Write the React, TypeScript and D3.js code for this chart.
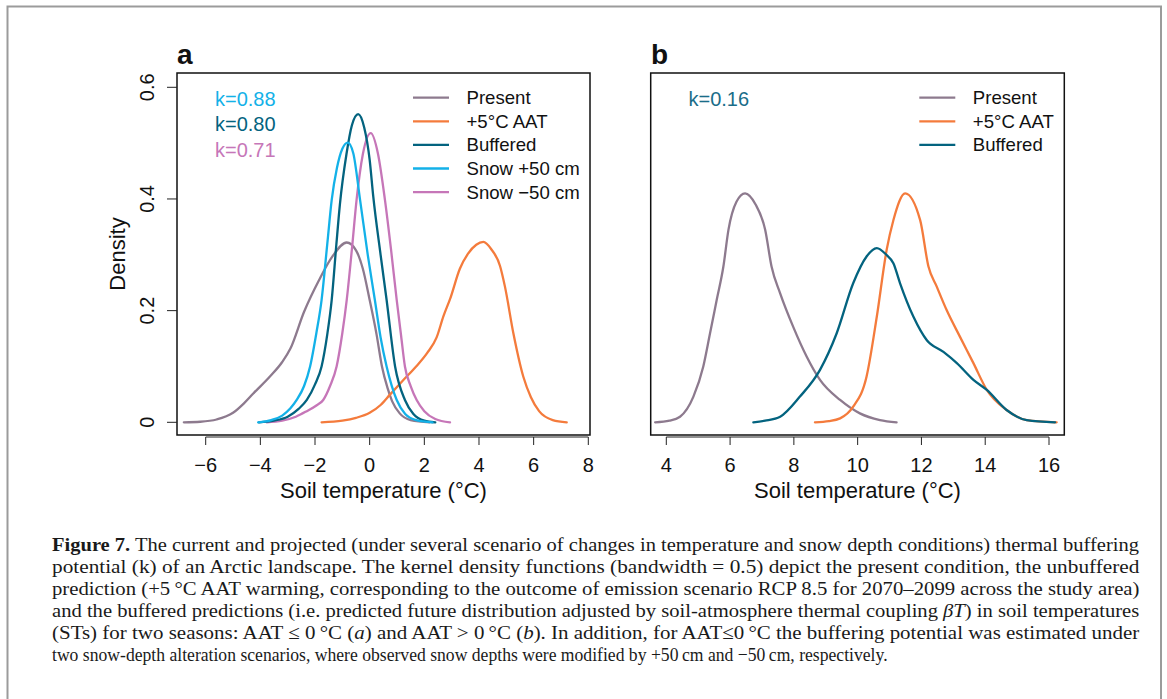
import React, { useLayoutEffect, useRef } from "react";
import * as d3 from "d3";

type Pt = [number, number];

// ---------- data ----------
const seriesNames = ["Present", "+5°C AAT", "Buffered", "Snow +50 cm", "Snow \u221250 cm"];

const presentA: Pt[] = [
  [-6.8, 0], [-6.2, 0.001], [-5.6, 0.005], [-5.0, 0.017], [-4.6, 0.034], [-4.25, 0.052],
  [-3.65, 0.082], [-3.2, 0.108], [-2.9, 0.132], [-2.4, 0.198], [-1.85, 0.255], [-1.35, 0.298],
  [-0.84, 0.322], [-0.5, 0.308], [-0.25, 0.275], [0.0, 0.219], [0.25, 0.158], [0.45, 0.1],
  [0.65, 0.062], [0.82, 0.038], [1.1, 0.016], [1.5, 0.004], [2.2, 0],
];
const warmA: Pt[] = [
  [-1.76, 0], [-1.0, 0.003], [-0.5, 0.008], [0.0, 0.017], [0.4, 0.031], [0.75, 0.05],
  [1.2, 0.074], [1.7, 0.1], [2.1, 0.124], [2.45, 0.152], [2.7, 0.19], [2.95, 0.222],
  [3.3, 0.275], [3.6, 0.302], [3.9, 0.318], [4.16, 0.323], [4.45, 0.31], [4.77, 0.28],
  [4.95, 0.243], [5.26, 0.159], [5.62, 0.082], [5.9, 0.045], [6.2, 0.02], [6.7, 0.004], [7.21, 0],
];
const bufferedA: Pt[] = [
  [-4.05, 0], [-3.5, 0.003], [-3.0, 0.01], [-2.6, 0.024], [-2.3, 0.04], [-2.0, 0.068],
  [-1.76, 0.1], [-1.55, 0.158], [-1.39, 0.219], [-1.22, 0.318], [-1.09, 0.39], [-0.85, 0.48],
  [-0.65, 0.532], [-0.42, 0.552], [-0.2, 0.528], [0.0, 0.47], [0.13, 0.405], [0.4, 0.3],
  [0.62, 0.219], [0.93, 0.1], [1.29, 0.04], [1.6, 0.015], [2.0, 0.003], [2.4, 0],
];
const snowPlusA: Pt[] = [
  [-4.08, 0], [-3.6, 0.004], [-3.2, 0.012], [-2.9, 0.025], [-2.67, 0.04], [-2.4, 0.065],
  [-2.18, 0.1], [-1.95, 0.16], [-1.76, 0.219], [-1.55, 0.32], [-1.39, 0.398], [-1.2, 0.455],
  [-1.0, 0.49], [-0.8, 0.501], [-0.6, 0.482], [-0.35, 0.398], [-0.07, 0.3], [0.19, 0.219],
  [0.4, 0.152], [0.62, 0.1], [0.99, 0.04], [1.3, 0.015], [1.7, 0.004], [2.3, 0],
];
const snowMinusA: Pt[] = [
  [-3.77, 0], [-3.2, 0.003], [-2.7, 0.01], [-2.3, 0.02], [-1.95, 0.03], [-1.7, 0.04],
  [-1.45, 0.065], [-1.21, 0.1], [-1.0, 0.16], [-0.84, 0.219], [-0.65, 0.31], [-0.48, 0.398],
  [-0.25, 0.48], [0.04, 0.518], [0.3, 0.482], [0.56, 0.398], [0.78, 0.31], [0.99, 0.219],
  [1.15, 0.155], [1.29, 0.1], [1.5, 0.065], [1.72, 0.04], [2.0, 0.02], [2.4, 0.006], [2.94, 0],
];

const presentB: Pt[] = [
  [3.65, 0], [4.1, 0.003], [4.43, 0.01], [4.85, 0.046], [5.16, 0.1], [5.37, 0.159],
  [5.58, 0.219], [5.79, 0.279], [5.95, 0.345], [6.2, 0.395], [6.47, 0.41], [6.8, 0.39],
  [7.1, 0.345], [7.3, 0.279], [7.57, 0.231], [7.98, 0.171], [8.4, 0.118], [8.82, 0.076],
  [9.45, 0.04], [10.07, 0.016], [10.7, 0.004], [11.22, 0],
];
const warmB: Pt[] = [
  [8.66, 0], [9.1, 0.002], [9.45, 0.007], [9.86, 0.028], [10.28, 0.082], [10.6, 0.189],
  [10.91, 0.309], [11.12, 0.362], [11.49, 0.41], [11.96, 0.362], [12.22, 0.279],
  [12.48, 0.243], [12.79, 0.201], [13.21, 0.153], [13.63, 0.106], [14.05, 0.058],
  [14.67, 0.022], [15.3, 0.004], [16.24, 0],
];
const bufferedB: Pt[] = [
  [6.73, 0], [7.1, 0.003], [7.57, 0.01], [8.19, 0.046], [8.82, 0.094], [9.34, 0.159],
  [9.86, 0.249], [10.28, 0.297], [10.6, 0.312], [10.9, 0.3], [11.12, 0.285], [11.33, 0.249],
  [11.75, 0.189], [12.17, 0.147], [12.69, 0.126], [13.11, 0.106], [13.63, 0.076],
  [14.05, 0.058], [14.67, 0.022], [15.3, 0.004], [16.19, 0],
];

const kLabelsA = ["k=0.88", "k=0.80", "k=0.71"];
const kLabelsB = ["k=0.16"];
const xTicksA = [-6, -4, -2, 0, 2, 4, 6, 8];
const xTicksB = [4, 6, 8, 10, 12, 14, 16];
const yTicks = [0, 0.2, 0.4, 0.6];

const captionLines = [
  "The current and projected (under several scenario of changes in temperature and snow depth conditions) thermal buffering",
  "potential (k) of an Arctic landscape. The kernel density functions (bandwidth = 0.5) depict the present condition, the unbuffered",
  "prediction (+5\u2009°C AAT warming, corresponding to the outcome of emission scenario RCP 8.5 for 2070–2099 across the study area)",
  "and the buffered predictions (i.e. predicted future distribution adjusted by soil-atmosphere thermal coupling ",
  "(STs) for two seasons: AAT \u2264 0\u2009°C (",
  "two snow-depth alteration scenarios, where observed snow depths were modified by +50\u2009cm and \u221250\u2009cm, respectively.",
];

// ---------- styles ----------
const C_PRESENT = "#8d7a8e";
const C_WARM = "#f47b3c";
const C_BUFF = "#03637f";
const C_SNOWP = "#13b1e8";
const C_SNOWM = "#c676b8";
const SANS = "'Liberation Sans', Arial, Helvetica, sans-serif";
const SERIF = "'Liberation Serif', 'Times New Roman', serif";

const yScale = d3.scaleLinear().domain([0, 0.6]).range([422.3, 87.3]);
const xA = d3.scaleLinear().domain([-6, 8]).range([205.7, 588.3]);
const xB = d3.scaleLinear().domain([4, 16]).range([666.3, 1049]);

const BOX_TOP = 73;
const BOX_BOTTOM = 435;
const boxA = { x0: 177, x1: 590 };
const boxB = { x0: 650.7, x1: 1064.3 };

const fmtTick = (v: number) => (v < 0 ? "\u2212" + Math.abs(v) : String(v));

function Curve({ data, x, color }: { data: Pt[]; x: d3.ScaleLinear<number, number>; color: string }) {
  const line = d3
    .line<Pt>()
    .x((d) => x(d[0]))
    .y((d) => yScale(d[1]))
    .curve(d3.curveMonotoneX);
  return <path d={line(data) || ""} fill="none" stroke={color} strokeWidth={2.3} strokeLinejoin="round" strokeLinecap="round" />;
}

function XAxis({ x, ticks, x0, x1 }: { x: d3.ScaleLinear<number, number>; ticks: number[]; x0: number; x1: number }) {
  const ay = 437;
  return (
    <g>
      <line x1={x(ticks[0])} x2={x(ticks[ticks.length - 1])} y1={ay} y2={ay} stroke="#222" strokeWidth={1} />
      {ticks.map((t) => (
        <g key={t}>
          <line x1={x(t)} x2={x(t)} y1={ay} y2={ay + 8} stroke="#222" strokeWidth={1} />
          <text x={x(t)} y={472} textAnchor="middle" fontFamily={SANS} fontSize={20} fill="#111">
            {fmtTick(t)}
          </text>
        </g>
      ))}
      <text x={(x0 + x1) / 2} y={498} textAnchor="middle" fontFamily={SANS} fontSize={22} fill="#111">
        Soil temperature (°C)
      </text>
    </g>
  );
}

function Legend({ x0, names, colors }: { x0: number; names: string[]; colors: string[] }) {
  return (
    <g>
      {names.map((n, i) => {
        const cy = 97.7 + i * 23.6;
        return (
          <g key={n}>
            <line x1={x0} x2={x0 + 36} y1={cy} y2={cy} stroke={colors[i]} strokeWidth={2.3} />
            <text x={x0 + 53.5} y={cy + 6.5} fontFamily={SANS} fontSize={18.6} fill="#111">
              {n}
            </text>
          </g>
        );
      })}
    </g>
  );
}

const CAP_X = 52;
const CAP_BASE = 551;
const CAP_STEP = 22;
const CAP_FS = 19.5;
const CAP_WIDTHS = [1088, 1088, 1088, 1088, 1088, 836];

export default function App() {
  const refs = useRef<(SVGTextElement | null)[]>([]);

  useLayoutEffect(() => {
    refs.current.forEach((el, i) => {
      if (!el) return;
      const w = el.getComputedTextLength();
      if (!w) return;
      const k = CAP_WIDTHS[i] / w;
      el.setAttribute("transform", `translate(${CAP_X},${CAP_BASE + i * CAP_STEP}) scale(${k},1)`);
    });
  }, []);

  const tf = (i: number) => `translate(${CAP_X},${CAP_BASE + i * CAP_STEP})`;
  const setRef = (i: number) => (el: SVGTextElement | null) => {
    refs.current[i] = el;
  };

  return (
    <svg
      width={1167}
      height={699}
      viewBox="0 0 1167 699"
      style={{ position: "absolute", left: 0, top: 0, display: "block", background: "#fff" }}
    >
      <rect x={0} y={0} width={1167} height={699} fill="#fff" />
      {/* outer frame */}
      <rect x={7.5} y={6.5} width={1153.5} height={720} fill="none" stroke="#9b9b9b" strokeWidth={2} />

      {/* ---------- panel a ---------- */}
      <text x={177} y={63.5} fontFamily={SANS} fontWeight="bold" fontSize={28} fill="#111">
        a
      </text>
      <rect x={boxA.x0} y={BOX_TOP} width={boxA.x1 - boxA.x0} height={BOX_BOTTOM - BOX_TOP} fill="none" stroke="#111" strokeWidth={1.5} />
      {yTicks.map((t) => (
        <g key={t}>
          <line x1={167} x2={boxA.x0} y1={yScale(t)} y2={yScale(t)} stroke="#222" strokeWidth={1} />
          <text
            transform={`translate(153.5,${yScale(t)}) rotate(-90)`}
            textAnchor="middle"
            fontFamily={SANS}
            fontSize={20}
            fill="#111"
          >
            {String(t)}
          </text>
        </g>
      ))}
      <text transform={`translate(125,254) rotate(-90)`} textAnchor="middle" fontFamily={SANS} fontSize={22} fill="#111">
        Density
      </text>
      <XAxis x={xA} ticks={xTicksA} x0={boxA.x0} x1={boxA.x1} />
      <Curve data={presentA} x={xA} color={C_PRESENT} />
      <Curve data={warmA} x={xA} color={C_WARM} />
      <Curve data={snowMinusA} x={xA} color={C_SNOWM} />
      <Curve data={bufferedA} x={xA} color={C_BUFF} />
      <Curve data={snowPlusA} x={xA} color={C_SNOWP} />
      {kLabelsA.map((k, i) => (
        <text key={k} x={215} y={106 + i * 25.3} fontFamily={SANS} fontSize={20} fill={[C_SNOWP, C_BUFF, C_SNOWM][i]}>
          {k}
        </text>
      ))}
      <Legend x0={413} names={seriesNames} colors={[C_PRESENT, C_WARM, C_BUFF, C_SNOWP, C_SNOWM]} />

      {/* ---------- panel b ---------- */}
      <text x={651} y={63.5} fontFamily={SANS} fontWeight="bold" fontSize={28} fill="#111">
        b
      </text>
      <rect x={boxB.x0} y={BOX_TOP} width={boxB.x1 - boxB.x0} height={BOX_BOTTOM - BOX_TOP} fill="none" stroke="#111" strokeWidth={1.5} />
      <XAxis x={xB} ticks={xTicksB} x0={boxB.x0} x1={boxB.x1} />
      <Curve data={presentB} x={xB} color={C_PRESENT} />
      <Curve data={warmB} x={xB} color={C_WARM} />
      <Curve data={bufferedB} x={xB} color={C_BUFF} />
      {kLabelsB.map((k) => (
        <text key={k} x={688.5} y={106} fontFamily={SANS} fontSize={20} fill="#1a6d89">
          {k}
        </text>
      ))}
      <Legend x0={919.3} names={seriesNames.slice(0, 3)} colors={[C_PRESENT, C_WARM, C_BUFF]} />

      {/* ---------- caption ---------- */}
      <g fontFamily={SERIF} fontSize={CAP_FS} fill="#1a1a1a">
        <text ref={setRef(0)} transform={tf(0)} style={{ whiteSpace: "pre" }}>
          <tspan fontWeight="bold">Figure 7.</tspan>
          {" " + captionLines[0]}
        </text>
        <text ref={setRef(1)} transform={tf(1)}>
          {captionLines[1]}
        </text>
        <text ref={setRef(2)} transform={tf(2)}>
          {captionLines[2]}
        </text>
        <text ref={setRef(3)} transform={tf(3)} style={{ whiteSpace: "pre" }}>
          {captionLines[3]}
          <tspan fontStyle="italic">βT</tspan>
          {") in soil temperatures"}
        </text>
        <text ref={setRef(4)} transform={tf(4)} style={{ whiteSpace: "pre" }}>
          {captionLines[4]}
          <tspan fontStyle="italic">a</tspan>
          {") and AAT > 0\u2009°C ("}
          <tspan fontStyle="italic">b</tspan>
          {"). In addition, for AAT\u22640\u2009°C the buffering potential was estimated under"}
        </text>
        <text ref={setRef(5)} transform={tf(5)}>
          {captionLines[5]}
        </text>
      </g>
    </svg>
  );
}
